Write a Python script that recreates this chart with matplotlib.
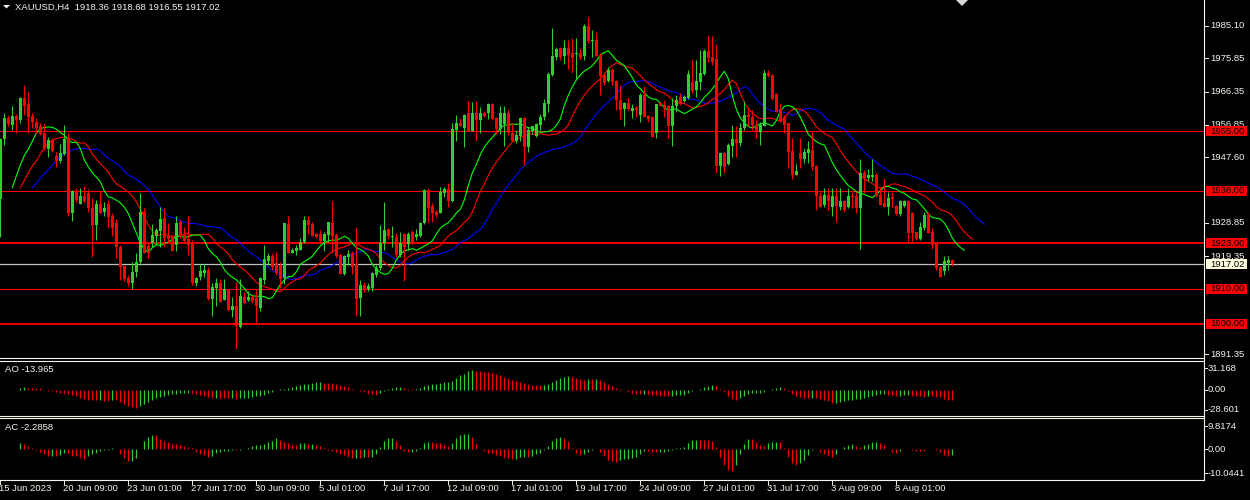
import numpy as np
import pandas as pd
import matplotlib
matplotlib.use('Agg')
import matplotlib.pyplot as plt
import matplotlib.transforms as mtransforms
from matplotlib.patches import Rectangle, Polygon
from matplotlib.lines import Line2D

# --- data (XAUUSD, H4) ---
title_text = 'XAUUSD,H4  1918.36 1918.68 1916.55 1917.02'
ao_text = 'AO -13.965'
ac_text = 'AC -2.2858'

opens = [1935.6, 1952.7, 1958.9, 1956.8, 1959.5, 1958.3, 1964.4, 1962.8, 1959.4, 1957.8,
         1956.5, 1954.5, 1950.0, 1952.4, 1948.0, 1946.6, 1948.5, 1952.9, 1931.6, 1937.8,
         1934.3, 1936.4, 1937.3, 1933.0, 1928.3, 1934.3, 1931.9, 1934.3, 1930.7, 1928.9,
         1922.1, 1916.6, 1913.2, 1911.8, 1914.7, 1917.8, 1931.9, 1922.3, 1923.2, 1925.2,
         1926.6, 1930.2, 1925.1, 1924.9, 1922.6, 1929.2, 1925.6, 1924.3, 1923.1, 1911.8,
         1913.3, 1914.5, 1915.5, 1907.2, 1910.2, 1911.8, 1906.9, 1909.9, 1904.0, 1905.2,
         1899.1, 1907.8, 1906.9, 1907.6, 1907.4, 1904.5, 1912.6, 1918.1, 1919.3, 1917.3,
         1916.9, 1913.1, 1928.5, 1920.4, 1920.9, 1921.2, 1923.3, 1929.7, 1928.5, 1925.6,
         1925.6, 1923.8, 1925.4, 1928.8, 1925.4, 1919.7, 1914.3, 1919.1, 1920.2, 1917.1,
         1907.5, 1911.0, 1909.9, 1910.2, 1914.0, 1915.9, 1923.1, 1927.1, 1924.8, 1924.9,
         1919.7, 1925.7, 1922.9, 1926.4, 1924.7, 1925.2, 1928.8, 1938.3, 1933.7, 1932.1,
         1931.8, 1937.5, 1938.6, 1935.2, 1955.4, 1957.5, 1955.9, 1960.2, 1955.1, 1960.2,
         1958.3, 1960.3, 1960.2, 1962.7, 1958.7, 1955.7, 1957.0, 1960.2, 1954.5, 1952.1,
         1953.7, 1958.7, 1950.6, 1955.2, 1953.7, 1956.8, 1959.0, 1962.8, 1971.1, 1976.3,
         1978.7, 1976.5, 1978.7, 1977.5, 1977.0, 1977.5, 1976.5, 1985.2, 1980.8, 1981.1,
         1976.8, 1971.1, 1969.4, 1972.5, 1969.4, 1964.0, 1961.3, 1963.0, 1960.8, 1961.8,
         1959.7, 1965.4, 1959.4, 1959.2, 1954.6, 1963.0, 1962.5, 1962.2, 1956.4, 1962.1,
         1964.7, 1963.7, 1964.4, 1969.2, 1966.8, 1969.2, 1971.3, 1978.0, 1976.3, 1975.7,
         1945.1, 1948.9, 1945.7, 1950.8, 1952.8, 1951.8, 1955.9, 1959.7, 1959.2, 1956.8,
         1954.9, 1956.5, 1971.8, 1971.1, 1965.7, 1961.3, 1959.2, 1957.3, 1949.5, 1942.6,
         1948.7, 1947.0, 1948.7, 1949.7, 1945.1, 1936.6, 1934.0, 1936.9, 1933.5, 1936.4,
         1933.5, 1935.0, 1933.5, 1936.6, 1936.4, 1933.0, 1943.0, 1941.8, 1941.9, 1942.6,
         1936.9, 1934.5, 1933.5, 1936.2, 1933.8, 1931.4, 1933.7, 1935.0, 1931.8, 1926.4,
         1924.2, 1927.3, 1931.1, 1926.4, 1922.8, 1916.4, 1915.0, 1917.5, 1918.36]

highs = [1953.0, 1960.2, 1959.7, 1962.2, 1959.9, 1964.9, 1968.1, 1966.2, 1960.2, 1958.7,
         1957.5, 1957.3, 1953.5, 1953.0, 1949.2, 1951.4, 1956.8, 1954.4, 1938.2, 1938.9,
         1938.8, 1939.4, 1938.5, 1935.9, 1935.4, 1937.6, 1934.9, 1935.4, 1931.6, 1929.9,
         1922.6, 1916.9, 1914.0, 1917.8, 1920.2, 1937.3, 1933.0, 1923.1, 1928.6, 1927.3,
         1933.5, 1933.0, 1928.7, 1925.4, 1930.7, 1929.7, 1927.8, 1930.7, 1924.0, 1913.5,
         1917.2, 1917.2, 1916.2, 1911.6, 1913.1, 1912.9, 1912.8, 1910.0, 1907.8, 1912.1,
         1912.8, 1909.0, 1909.5, 1908.3, 1909.9, 1913.5, 1922.6, 1920.4, 1920.0, 1920.5,
         1917.8, 1928.9, 1930.9, 1921.6, 1922.6, 1924.5, 1930.7, 1930.7, 1929.2, 1926.1,
         1926.9, 1926.4, 1929.2, 1935.1, 1925.9, 1920.2, 1919.7, 1921.2, 1920.7, 1927.5,
         1912.6, 1912.1, 1911.8, 1914.7, 1916.9, 1928.3, 1934.9, 1927.3, 1928.1, 1925.9,
         1926.4, 1925.9, 1926.4, 1926.9, 1927.1, 1929.2, 1938.5, 1938.8, 1934.5, 1932.6,
         1939.0, 1939.2, 1940.2, 1957.5, 1959.7, 1958.9, 1959.9, 1963.7, 1963.3, 1963.7,
         1961.9, 1960.8, 1963.2, 1963.2, 1959.2, 1962.2, 1962.1, 1961.1, 1957.3, 1955.4,
         1959.2, 1959.2, 1956.2, 1956.6, 1957.3, 1960.0, 1964.2, 1972.0, 1984.4, 1979.0,
         1979.0, 1981.1, 1981.1, 1981.6, 1981.6, 1978.7, 1985.6, 1987.6, 1983.8, 1983.5,
         1977.3, 1971.6, 1973.5, 1973.0, 1969.7, 1968.2, 1963.5, 1964.4, 1962.8, 1962.1,
         1966.0, 1967.9, 1959.7, 1959.4, 1962.7, 1963.5, 1964.0, 1962.5, 1964.4, 1965.4,
         1966.0, 1965.4, 1972.5, 1975.4, 1975.4, 1978.2, 1978.4, 1982.2, 1982.2, 1979.7,
         1949.2, 1949.2, 1951.6, 1956.8, 1956.4, 1957.3, 1963.8, 1961.6, 1961.1, 1958.3,
         1957.8, 1972.5, 1972.5, 1971.3, 1965.9, 1963.0, 1959.7, 1957.5, 1953.0, 1945.7,
         1953.0, 1950.2, 1952.1, 1954.9, 1945.4, 1937.8, 1938.8, 1938.8, 1938.8, 1938.8,
         1938.8, 1935.4, 1938.8, 1937.8, 1937.8, 1947.0, 1944.0, 1944.2, 1947.0, 1943.0,
         1939.2, 1941.6, 1937.8, 1937.8, 1934.0, 1935.4, 1935.4, 1935.4, 1932.1, 1926.4,
         1929.0, 1932.1, 1932.1, 1927.3, 1923.1, 1916.6, 1919.3, 1919.3, 1918.68]

lows = [1924.8, 1951.1, 1956.4, 1955.4, 1954.5, 1957.3, 1959.7, 1954.5, 1955.9, 1954.5,
        1954.0, 1949.7, 1947.8, 1949.2, 1944.9, 1946.1, 1948.3, 1930.7, 1929.5, 1934.9,
        1934.3, 1934.5, 1932.1, 1919.0, 1924.0, 1931.6, 1930.7, 1927.8, 1925.0, 1918.8,
        1912.6, 1912.4, 1910.7, 1909.9, 1913.5, 1916.9, 1920.2, 1918.8, 1922.1, 1922.6,
        1922.1, 1922.1, 1923.1, 1920.9, 1920.7, 1924.5, 1923.5, 1919.7, 1911.2, 1910.7,
        1912.6, 1913.5, 1906.9, 1902.4, 1905.0, 1906.4, 1906.9, 1903.8, 1902.1, 1892.8,
        1898.8, 1905.7, 1906.7, 1906.1, 1900.0, 1903.8, 1911.4, 1916.9, 1915.4, 1914.0,
        1910.2, 1911.4, 1920.2, 1920.2, 1919.7, 1921.0, 1923.1, 1925.7, 1925.0, 1924.5,
        1923.5, 1920.7, 1923.5, 1920.2, 1918.8, 1914.3, 1914.0, 1916.9, 1914.3, 1902.4,
        1902.4, 1909.1, 1909.4, 1909.5, 1913.5, 1915.4, 1921.2, 1924.2, 1922.1, 1919.2,
        1919.2, 1912.4, 1921.2, 1922.9, 1924.0, 1924.8, 1928.6, 1929.2, 1929.2, 1930.5,
        1931.6, 1936.2, 1933.5, 1934.9, 1952.3, 1956.5, 1950.6, 1955.1, 1955.1, 1952.3,
        1954.6, 1959.2, 1958.4, 1958.3, 1954.3, 1954.3, 1950.9, 1954.0, 1952.1, 1951.6,
        1952.1, 1945.4, 1949.2, 1954.3, 1953.5, 1955.4, 1958.3, 1960.6, 1970.8, 1975.4,
        1975.4, 1974.1, 1972.7, 1971.6, 1969.7, 1975.6, 1975.4, 1980.1, 1976.3, 1976.5,
        1965.4, 1968.2, 1969.2, 1968.2, 1961.1, 1958.4, 1956.5, 1961.1, 1958.9, 1959.2,
        1957.8, 1959.2, 1957.8, 1953.5, 1953.0, 1962.1, 1959.2, 1953.0, 1950.9, 1960.6,
        1962.5, 1963.5, 1964.2, 1966.0, 1964.9, 1966.8, 1971.1, 1974.9, 1974.0, 1943.0,
        1942.3, 1943.0, 1945.4, 1947.8, 1947.8, 1950.8, 1955.4, 1956.4, 1955.4, 1953.0,
        1951.1, 1956.5, 1970.6, 1964.0, 1960.6, 1957.8, 1954.5, 1944.5, 1941.3, 1942.6,
        1944.5, 1945.9, 1945.9, 1944.0, 1932.6, 1933.5, 1933.5, 1932.6, 1930.7, 1929.2,
        1932.6, 1932.1, 1933.0, 1933.0, 1931.8, 1921.3, 1937.3, 1940.7, 1940.9, 1936.2,
        1934.0, 1933.5, 1931.2, 1933.5, 1931.1, 1930.7, 1933.5, 1923.1, 1923.1, 1924.0,
        1924.0, 1926.9, 1925.9, 1921.3, 1915.4, 1913.4, 1914.0, 1915.4, 1916.55]

closes = [1952.7, 1958.7, 1957.0, 1959.5, 1958.3, 1964.6, 1962.2, 1959.2, 1957.8, 1955.9,
          1954.3, 1950.2, 1952.4, 1949.5, 1946.6, 1948.9, 1952.7, 1931.8, 1938.0, 1935.4,
          1936.4, 1935.0, 1933.0, 1928.3, 1934.3, 1931.8, 1933.2, 1930.5, 1927.5, 1922.1,
          1916.4, 1912.9, 1911.6, 1914.8, 1917.6, 1931.9, 1920.4, 1920.2, 1925.4, 1926.9,
          1930.0, 1924.5, 1924.2, 1920.9, 1928.9, 1924.8, 1923.7, 1922.6, 1911.6, 1913.1,
          1915.0, 1915.5, 1907.2, 1910.5, 1911.8, 1906.4, 1909.9, 1904.0, 1905.2, 1899.3,
          1908.0, 1906.1, 1907.8, 1906.7, 1905.0, 1913.1, 1918.6, 1919.5, 1916.4, 1914.5,
          1912.8, 1928.8, 1920.4, 1921.0, 1921.8, 1923.5, 1929.7, 1928.3, 1925.2, 1924.7,
          1923.8, 1925.7, 1929.0, 1925.2, 1919.4, 1914.3, 1919.5, 1920.0, 1916.4, 1907.2,
          1911.0, 1909.7, 1910.7, 1914.5, 1915.9, 1923.2, 1926.9, 1925.2, 1925.2, 1919.7,
          1923.1, 1922.1, 1925.7, 1923.1, 1925.6, 1928.8, 1938.3, 1933.2, 1931.6, 1931.1,
          1937.8, 1938.6, 1935.2, 1955.6, 1957.5, 1956.5, 1959.7, 1955.1, 1960.2, 1958.3,
          1960.2, 1959.4, 1962.7, 1958.4, 1955.7, 1960.2, 1960.3, 1954.5, 1952.3, 1954.0,
          1958.9, 1950.6, 1955.4, 1956.4, 1957.0, 1959.2, 1963.0, 1971.4, 1976.5, 1978.5,
          1976.3, 1978.7, 1976.8, 1976.0, 1977.5, 1976.0, 1985.2, 1980.8, 1981.1, 1976.5,
          1970.8, 1968.7, 1972.5, 1969.2, 1964.0, 1961.1, 1963.0, 1961.3, 1961.8, 1961.1,
          1965.4, 1959.2, 1958.4, 1953.5, 1962.7, 1962.2, 1961.8, 1956.5, 1962.1, 1964.0,
          1962.8, 1964.7, 1971.4, 1966.6, 1969.5, 1971.8, 1978.0, 1975.9, 1974.9, 1945.1,
          1948.9, 1944.9, 1951.1, 1952.8, 1951.8, 1955.9, 1959.7, 1959.0, 1956.8, 1954.9,
          1956.8, 1971.8, 1970.8, 1964.2, 1960.6, 1957.8, 1956.8, 1949.2, 1942.6, 1943.7,
          1947.0, 1949.2, 1949.9, 1944.9, 1936.4, 1933.5, 1936.9, 1935.0, 1936.4, 1933.7,
          1935.0, 1932.4, 1936.6, 1936.2, 1933.0, 1943.0, 1941.6, 1942.6, 1942.6, 1936.4,
          1934.0, 1933.5, 1936.1, 1935.6, 1931.4, 1935.0, 1935.0, 1926.1, 1925.9, 1924.2,
          1927.8, 1931.1, 1925.9, 1922.6, 1915.9, 1913.4, 1918.0, 1918.3, 1917.02]

levels = [1955.00, 1938.00, 1923.00, 1910.00, 1900.00]
last_price = 1917.02
price_ticks = [1985.10, 1975.85, 1966.35, 1956.85, 1947.60, 1928.85, 1919.35, 1891.35]
ao_ticks = [31.168, 0.0, -28.601]
ao_tick_text = ['31.168', '0.00', '-28.601']
ac_ticks = [9.8174, 0.0, -10.0441]
ac_tick_text = ['9.8174', '0.00', '-10.0441']
date_bars = [0, 16, 32, 48, 64, 80, 96, 112, 128, 144, 160, 176, 192, 208, 224]
date_labels = ['15 Jun 2023', '20 Jun 09:00', '23 Jun 01:00', '27 Jun 17:00', '30 Jun 09:00',
               '5 Jul 01:00', '7 Jul 17:00', '12 Jul 09:00', '17 Jul 01:00', '19 Jul 17:00',
               '24 Jul 09:00', '27 Jul 01:00', '31 Jul 17:00', '3 Aug 09:00', '8 Aug 01:00']

# --- indicators (Alligator, AO, AC) from the candles ---
o = np.array(opens); h = np.array(highs); l = np.array(lows); c = np.array(closes)
idx = np.arange(len(c))
median = pd.Series((h + l) / 2.0)

def smma(s, n):
    return s.ewm(alpha=1.0 / n, adjust=False).mean().values

jaw = smma(median, 13)
teeth = smma(median, 8)
lips = smma(median, 5)
ao = (median.rolling(5, min_periods=1).mean() - median.rolling(34, min_periods=1).mean())
ac = (ao - ao.rolling(5, min_periods=1).mean()).values
ao = ao.values

# --- figure layout (pixels measured from the top of a 1250x500 canvas) ---
W, H = 1250, 500
fg = '#F4F4EC'
bull = '#32CD32'
bear = '#FF0000'
plt.rcParams['font.family'] = ['Liberation Sans', 'DejaVu Sans']
fs = 6.8

def fx(px):
    return px / W

def fy(py):
    return 1 - py / H

fig = plt.figure(figsize=(12.5, 5), dpi=100, facecolor='black')
ax = fig.add_axes([0, fy(358.3), fx(1204), (358.3) / H])
ax_ao = fig.add_axes([0, fy(416), fx(1204), (416 - 360.7) / H])
ax_ac = fig.add_axes([0, fy(480), fx(1204), (480 - 418.3) / H])
for a in (ax, ax_ao, ax_ac):
    a.set_facecolor('black')
    a.set_xlim(-0.08, 300.9)
    a.set_axis_off()
ax.set_ylim(1890.2, 1992.5)
ax_ao.set_ylim(-37.4, 42.1)
ax_ac.set_ylim(-12.97, 13.1)

# horizontal levels
for lv in levels:
    lw = 1.3 if lv in (1923.0, 1900.0) else 0.8
    ax.axhline(lv, color='#FF0000', lw=lw, zorder=1)
ax.axhline(last_price, color='#C0C0C0', lw=0.9, zorder=1)

# candles
up = c >= o
cols = np.where(up, bull, bear)
ax.vlines(idx, l, h, colors=cols, linewidth=0.75, zorder=3)
ax.bar(idx, np.maximum(np.abs(c - o), 0.25), bottom=np.minimum(o, c), width=0.72,
       color=cols, linewidth=0, zorder=3)

# alligator lines (shifted forward)
ax.plot(idx + 8, jaw, color='#0000FF', lw=0.8, zorder=2)
ax.plot(idx + 5, teeth, color='#FF0000', lw=0.8, zorder=2)
ax.plot(idx + 3, lips, color='#00FF00', lw=0.8, zorder=2)

# AO / AC histograms
ao_up = np.diff(ao, prepend=ao[0]) > 0
ac_up = np.diff(ac, prepend=ac[0]) > 0
ax_ao.vlines(idx, 0, ao, colors=np.where(ao_up, bull, bear), linewidth=0.9)
ax_ac.vlines(idx, 0, ac, colors=np.where(ac_up, bull, bear), linewidth=0.9)

# frame lines
for py in [358.3, 360.7, 416.0, 418.3, 480.0]:
    fig.add_artist(Line2D([0, fx(1204)], [fy(py), fy(py)], color=fg, lw=0.8))
fig.add_artist(Line2D([fx(1204), fx(1204)], [fy(0), fy(480)], color=fg, lw=0.8))

# right price scale
tr = mtransforms.blended_transform_factory(fig.transFigure, ax.transData)
for p in price_ticks:
    ax.plot([fx(1204), fx(1208)], [p, p], color=fg, lw=0.7, transform=tr, clip_on=False)
    ax.text(fx(1210.5), p, '%.2f' % p, color=fg, fontsize=fs, va='center', ha='left',
            transform=tr, clip_on=False)
box_h = 10 / 3.504
for lv in levels:
    ax.add_patch(Rectangle((fx(1205.5), lv - box_h / 2), fx(41.5), box_h, transform=tr,
                           facecolor='#FF0000', edgecolor='none', clip_on=False, zorder=5))
    ax.text(fx(1210.5), lv, '%.2f' % lv, color='black', fontsize=fs, va='center', ha='left',
            transform=tr, clip_on=False, zorder=6)
ax.add_patch(Rectangle((fx(1205.5), last_price - box_h / 2), fx(41.5), box_h, transform=tr,
                       facecolor='#FFFFE0', edgecolor='none', clip_on=False, zorder=5))
ax.text(fx(1210.5), last_price, '%.2f' % last_price, color='black', fontsize=fs, va='center',
        ha='left', transform=tr, clip_on=False, zorder=6)

for a, ticks, texts in ((ax_ao, ao_ticks, ao_tick_text), (ax_ac, ac_ticks, ac_tick_text)):
    t2 = mtransforms.blended_transform_factory(fig.transFigure, a.transData)
    for v, s in zip(ticks, texts):
        a.plot([fx(1204), fx(1207)], [v, v], color=fg, lw=0.7, transform=t2, clip_on=False)
        a.text(fx(1208), v, s, color=fg, fontsize=fs, va='center', ha='left',
               transform=t2, clip_on=False)

# time axis
tx = mtransforms.blended_transform_factory(ax_ac.transData, fig.transFigure)
for b, s in zip(date_bars, date_labels):
    ax_ac.plot([b, b], [fy(480), fy(484)], color=fg, lw=0.7, transform=tx, clip_on=False)
    ax_ac.text(b - 0.3, fy(488.5), s, color=fg, fontsize=fs, va='center', ha='left',
               transform=tx, clip_on=False)

# titles
fig.text(fx(15), fy(7.5), title_text, color=fg, fontsize=fs, va='center', ha='left')
fig.add_artist(Polygon([[fx(3), fy(5)], [fx(10), fy(5)], [fx(6.5), fy(8.5)]], closed=True,
                       facecolor=fg, edgecolor='none', transform=fig.transFigure))
fig.add_artist(Polygon([[fx(956), fy(0)], [fx(968), fy(0)], [fx(962), fy(6)]], closed=True,
                       facecolor='#D8D8D8', edgecolor='none', transform=fig.transFigure))
fig.text(fx(5), fy(369.5), ao_text, color=fg, fontsize=fs, va='center', ha='left')
fig.text(fx(5), fy(427.5), ac_text, color=fg, fontsize=fs, va='center', ha='left')

fig.savefig('out.png', dpi=100, facecolor='black')
